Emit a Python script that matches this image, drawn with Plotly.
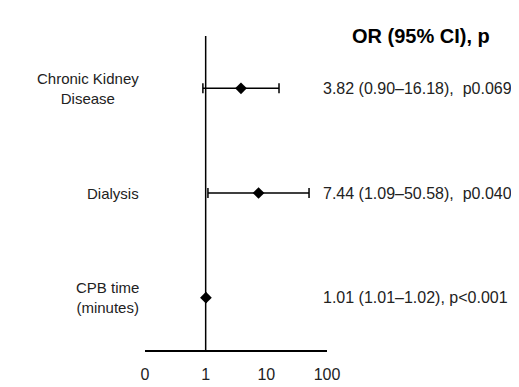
import plotly.graph_objects as go

categories = ["Chronic Kidney<br>Disease", "Dialysis", "CPB time<br>(minutes)"]
odds_ratio = [3.82, 7.44, 1.01]
ci_low = [0.90, 1.09, 1.01]
ci_high = [16.18, 50.58, 1.02]
result_text = ["3.82 (0.90\u201316.18),  p0.069",
               "7.44 (1.09\u201350.58),  p0.040",
               "1.01 (1.01\u20131.02), p<0.001"]
row_pos = [3, 2, 1]
tick_vals = [0.1, 1, 10, 100]
tick_text = ["0", "1", "10", "100"]
header = "OR (95% CI), p"

FONT = "Liberation Sans, Arial, sans-serif"

fig = go.Figure()
fig.add_trace(go.Scatter(
    x=odds_ratio, y=row_pos, mode="markers",
    marker=dict(symbol="diamond", size=9, color="black"),
    error_x=dict(type="data", symmetric=False,
                 array=[h - o for h, o in zip(ci_high, odds_ratio)],
                 arrayminus=[o - l for o, l in zip(odds_ratio, ci_low)],
                 color="black", thickness=1.5, width=5),
    showlegend=False, hoverinfo="skip"))

fig.add_shape(type="line", xref="x", yref="y", x0=1, x1=1, y0=0.5, y1=3.5,
              line=dict(color="black", width=1.5))

for cat, yv, txt in zip(categories, row_pos, result_text):
    fig.add_annotation(x=0, xref="paper", xshift=-4, y=yv, yref="y", text=cat,
                       showarrow=False, xanchor="right", align="center",
                       font=dict(family=FONT, size=15, color="#222"))
    fig.add_annotation(x=1.0, xref="paper", xshift=-6, y=yv, yref="y", text=txt,
                       showarrow=False, xanchor="left", align="left",
                       font=dict(family=FONT, size=16, color="#222"))

fig.add_annotation(x=1.0, xref="paper", xshift=94, y=1.0, yref="paper", text="<b>" + header + "</b>",
                   showarrow=False, xanchor="center", yanchor="middle",
                   font=dict(family=FONT, size=20, color="black"))

fig.update_xaxes(type="log", range=[-1, 2], tickvals=tick_vals, ticktext=tick_text,
                 showline=True, linecolor="black", linewidth=1.5, showgrid=False,
                 zeroline=False, ticks="outside", ticklen=9, tickcolor="rgba(0,0,0,0)",
                 tickfont=dict(family=FONT, size=16, color="#222"))
fig.update_yaxes(range=[0.5, 3.5], visible=False, showgrid=False, zeroline=False)

fig.update_layout(width=519, height=387, margin=dict(l=137, r=200, t=28, b=35),
                  plot_bgcolor="white", paper_bgcolor="white")

fig.write_html("out.html")
